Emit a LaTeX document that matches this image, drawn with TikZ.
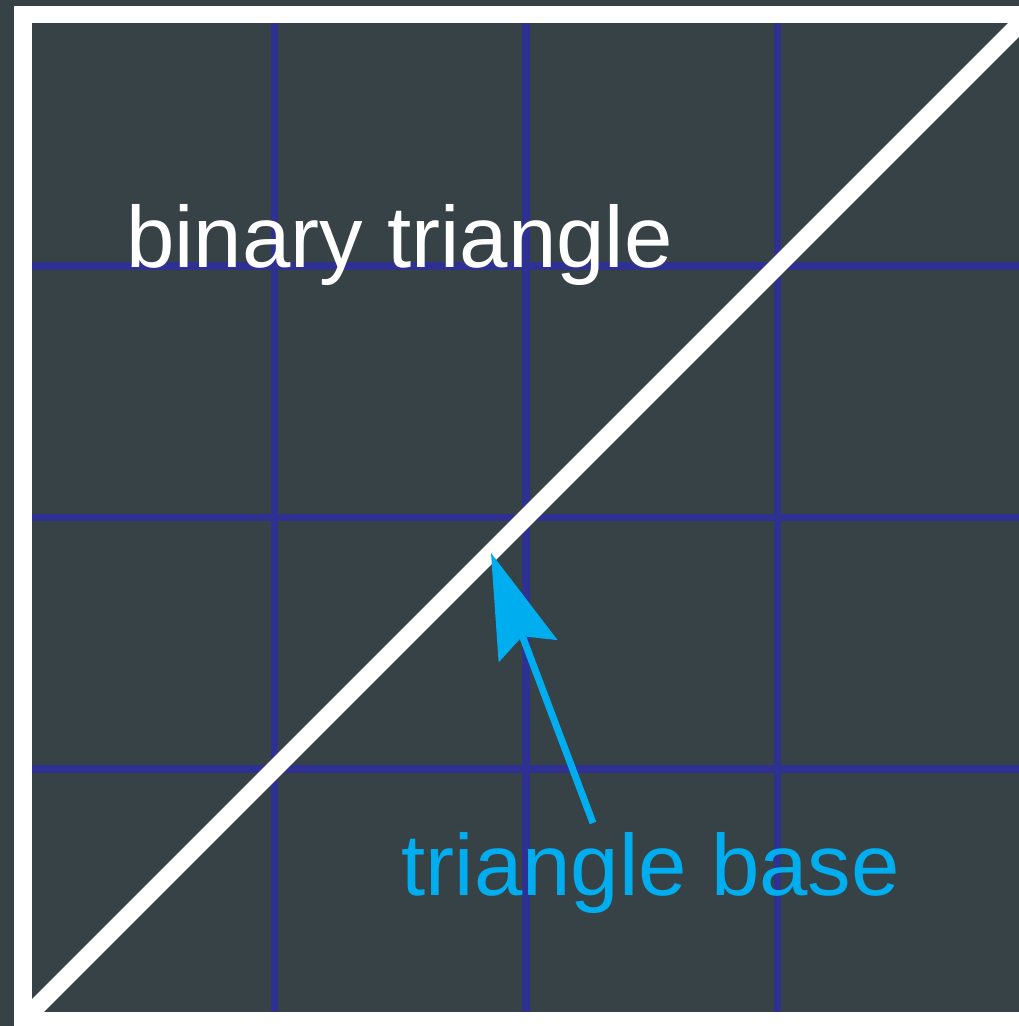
\documentclass[tikz,border=0pt]{standalone}
\usepackage{fontspec}
\setmainfont{Liberation Sans}
\usetikzlibrary{arrows.meta}
\definecolor{tribg}{HTML}{374247}
\definecolor{trigrid}{HTML}{2E3192}
\definecolor{tricyan}{HTML}{00AEEF}

\begin{document}
\begin{tikzpicture}[x=1pt,y=-1pt,
  gridline/.style={draw=trigrid,line width=7.5pt},
  edge/.style={draw=white,line width=17.5pt},
  label/.style={font=\fontsize{87}{100}\selectfont,inner sep=0pt,anchor=base west},
  arr/.style={draw=tricyan,line width=7pt,-{Stealth[length=105pt,width=63pt,inset=16pt,line width=0pt]}}
]
\fill[tribg] (0,0) rectangle (1019,1026);
\useasboundingbox (0,0) rectangle (1019,1026);
% square corners
\coordinate (nw) at (23,14.5);
\coordinate (se) at (1029,1020.5);
\coordinate (sw) at (23,1020.5);
\coordinate (ne) at (1029,14.5);
% grid
\foreach \i in {1,2,3} {
  \draw[gridline] (23+251.5*\i,14.5) -- (23+251.5*\i,1020.5);
  \draw[gridline] (23,14.5+251.5*\i) -- (1029,14.5+251.5*\i);
}
\draw[edge] (nw) rectangle (se);
\draw[edge] (sw) -- (ne);
\node[label,text=white] (title) at (126,267) {binary triangle};
\node[label,text=tricyan] (base) at (401.5,895) {triangle base};
\coordinate (tail) at (593,823);
\coordinate (tip) at (491,553);
\draw[arr] (tail) -- (tip);
\end{tikzpicture}
\end{document}
